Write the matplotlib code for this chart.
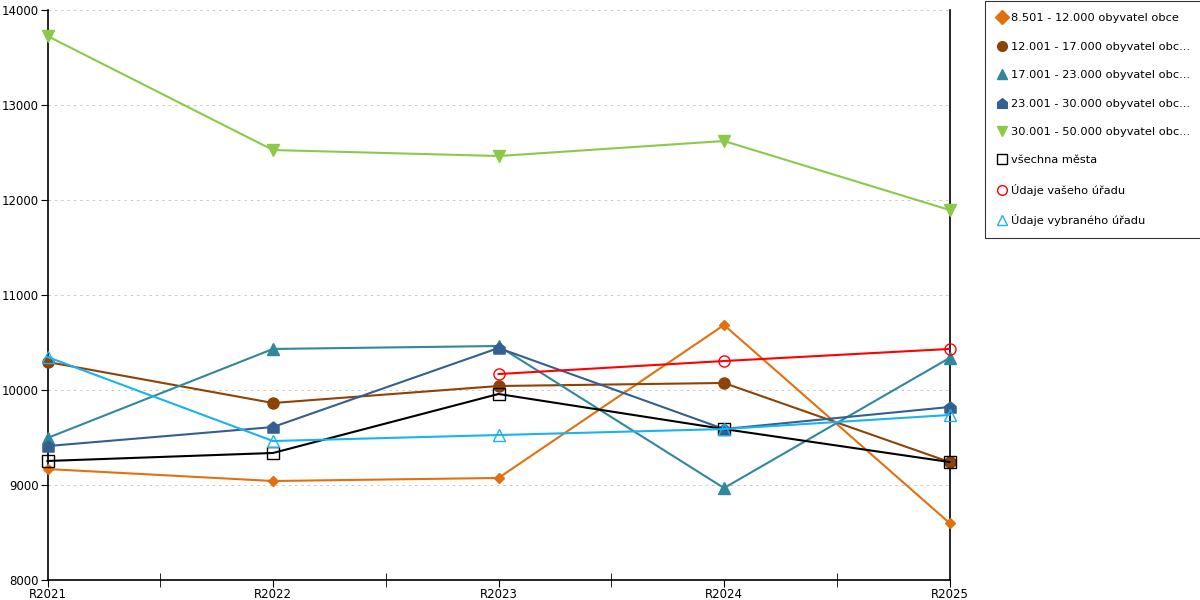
import matplotlib
matplotlib.use("Agg")
import matplotlib.pyplot as plt
from matplotlib.path import Path
import numpy as np

plt.rcParams['font.family'] = ['DejaVu Sans']

roky = ["R2021", "R2022", "R2023", "R2024", "R2025"]

nazvy = [
    "8.501 - 12.000 obyvatel obce",
    "12.001 - 17.000 obyvatel obc...",
    "17.001 - 23.000 obyvatel obc...",
    "23.001 - 30.000 obyvatel obc...",
    "30.001 - 50.000 obyvatel obc...",
    "všechna města",
    "Údaje vašeho úřadu",
    "Údaje vybraného úřadu",
]

obce_8501 = [9168, 9042, 9074, 10684, 8600]
obce_12001 = [10295, 9863, 10042, 10074, 9242]
obce_17001 = [9495, 10432, 10463, 8968, 10337]
obce_23001 = [9410, 9610, 10442, 9589, 9821]
obce_30001 = [13726, 12526, 12463, 12621, 11895]
vsechna_mesta = [9253, 9337, 9958, 9589, 9242]
vas_urad = [np.nan, np.nan, 10168, 10305, 10432]
vybrany_urad = [10347, 9463, 9526, 9589, 9737]

# domecek - marker pro 23.001 - 30.000
domecek = Path([(-1, -1), (1, -1), (1, 0.2), (0, 1), (-1, 0.2), (-1, -1)],
               [Path.MOVETO, Path.LINETO, Path.LINETO, Path.LINETO, Path.LINETO, Path.CLOSEPOLY])

serie = [
    (obce_8501, '#e2700f', 'D', 5.5, True),
    (obce_12001, '#8e4306', 'o', 8, True),
    (obce_17001, '#31879c', '^', 8.5, True),
    (obce_23001, '#345f91', domecek, 8, True),
    (obce_30001, '#8bca48', 'v', 8.5, True),
    (vsechna_mesta, '#000000', 's', 8, False),
    (vas_urad, '#ff0000', 'o', 8, False),
    (vybrany_urad, '#1ab2ef', '^', 9, False),
]

fig = plt.figure(figsize=(12, 6), dpi=100)
ax = fig.add_axes([47.5 / 1200, 20 / 600, 902 / 1200, 570 / 600])

x = np.arange(len(roky))
handles = []
for (hodnoty, barva, znak, velikost, plny), nazev in zip(serie, nazvy):
    h, = ax.plot(x, hodnoty, color=barva, lw=1.5, marker=znak, ms=velikost,
                 markerfacecolor=barva if plny else 'none',
                 markeredgecolor=barva, markeredgewidth=1.0, label=nazev,
                 clip_on=False, zorder=3)
    handles.append(h)

ax.set_xlim(0, 4)
ax.set_ylim(8000, 14000)
ax.set_yticks(np.arange(8000, 14001, 1000))
ax.set_xticks(x)
ax.set_xticklabels(roky)
ax.set_xticks(x[:-1] + 0.5, minor=True)
ax.tick_params(axis='x', which='major', length=5, direction='out', labelsize=8.5, pad=1)
ax.tick_params(axis='x', which='minor', length=10, direction='inout')
ax.tick_params(axis='y', length=5, direction='out', labelsize=8.5, pad=1)

ax.grid(axis='y', linestyle=(0, (2.5, 4)), color='#c8c8c8', lw=0.7)
ax.set_axisbelow(True)
ax.spines['top'].set_visible(False)
for s in ['left', 'bottom', 'right']:
    ax.spines[s].set_linewidth(1.2)
    ax.spines[s].set_color('black')

leg = fig.legend(handles=handles, loc='upper left', bbox_to_anchor=(985 / 1200, 0.998),
                 frameon=True, fancybox=False, edgecolor='black', fontsize=8.2,
                 handlelength=0.8, handletextpad=0.4, labelspacing=1.62,
                 borderpad=1.05, borderaxespad=0)
for lh in leg.legend_handles:
    lh.set_linestyle('none')
    lh.set_markersize(7)
leg.get_frame().set_linewidth(0.8)

fig.savefig("out.png", dpi=100)
